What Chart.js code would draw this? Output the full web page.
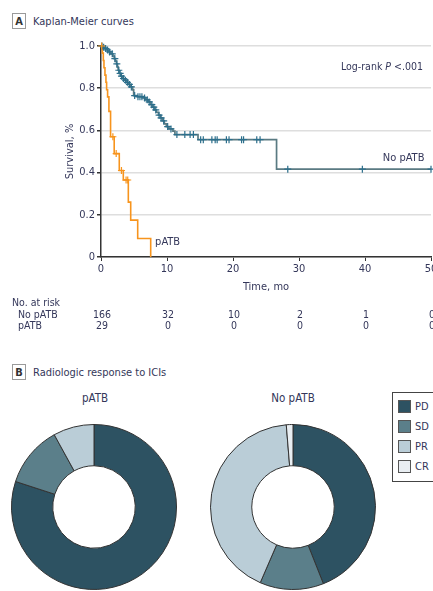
<!DOCTYPE html>
<html><head><meta charset="utf-8">
<script src="https://cdn.jsdelivr.net/npm/chart.js@4.4.1/dist/chart.umd.min.js"></script>
<style>
html,body{margin:0;padding:0;background:#fff;width:433px;height:591px;overflow:hidden;position:relative;
font-family:"Liberation Sans Narrow","DejaVu Sans Condensed","Arial Narrow",sans-serif;color:#34375a;}
canvas{position:absolute;display:block}
.hdr{position:absolute;left:12px;height:16px;display:flex;align-items:center;font-size:11px;white-space:nowrap}
.box{box-sizing:border-box;width:14px;height:16px;border:1px solid #9a9a9a;display:flex;align-items:center;justify-content:center;font-weight:bold;font-size:11px;margin-right:7px;color:#333;}
.ttl{position:absolute;font-size:11.5px;transform:translateX(-50%);white-space:nowrap}
#legend{position:absolute;left:392px;top:392px;width:60px;height:90px;border:1px solid #444;box-sizing:border-box}
.li{position:absolute;left:5px;height:13px;display:flex;align-items:center;font-size:11px}
.sw{box-sizing:border-box;width:13px;height:13px;border:1px solid #555;margin-right:4px}
</style></head>
<body>
<div class="hdr" style="top:13px"><div class="box">A</div>Kaplan-Meier curves</div>
<canvas id="km" width="445" height="340" style="left:0;top:0"></canvas>
<div class="hdr" style="top:364px"><div class="box">B</div>Radiologic response to ICIs</div>
<div class="ttl" style="left:95px;top:391px">pATB</div>
<div class="ttl" style="left:293px;top:391px">No pATB</div>
<canvas id="d1" width="166" height="166" style="left:11px;top:424px"></canvas>
<canvas id="d2" width="166" height="166" style="left:210px;top:424px"></canvas>
<div id="legend"></div>
<script>
// ---------- DATA ----------
const timeTicks = [0, 10, 20, 30, 40, 50];
const riskGroups = ['No pATB', 'pATB'];
const riskNoPATB = [166, 32, 10, 2, 1, 0];
const riskPATB = [29, 0, 0, 0, 0, 0];

// Kaplan-Meier step data (time in months, survival)
const noTimes = [0, 0.3, 0.6, 0.9, 1.2, 1.5, 1.8, 2.0, 2.2, 2.35, 2.5, 2.6, 2.75, 3.0, 3.3, 3.6, 3.9, 4.2, 4.5, 4.8, 4.95, 5.5, 6.4, 6.8, 7.2, 7.5, 7.8, 8.1, 8.4, 8.7, 9.0, 9.3, 9.6, 9.9, 10.3, 10.9, 11.2, 14.7, 26.6, 50];
const noSurv  = [1, 0.994, 0.988, 0.981, 0.972, 0.963, 0.952, 0.94, 0.928, 0.915, 0.9, 0.885, 0.87, 0.857, 0.846, 0.838, 0.828, 0.818, 0.806, 0.792, 0.765, 0.76, 0.754, 0.745, 0.735, 0.722, 0.71, 0.697, 0.686, 0.672, 0.659, 0.645, 0.631, 0.618, 0.607, 0.597, 0.58, 0.556, 0.416, 0.416];
const noCensorTimes = [0.15, 0.4, 0.7, 1.0, 1.3, 1.7, 2.1, 2.4, 2.7, 2.9, 3.1, 3.4, 3.7, 4.0, 4.3, 4.6, 5.1, 5.6, 5.9, 6.2, 6.6, 7.0, 7.3, 7.7, 8.0, 8.3, 8.8, 9.1, 9.5, 10.1, 10.6, 11.5, 12.7, 13.5, 14.0, 15.1, 15.5, 16.8, 17.3, 17.6, 19.0, 19.4, 21.3, 21.6, 23.6, 24.1, 28.3, 39.6, 50];

const pTimes = [0, 0.2, 0.35, 0.45, 0.6, 0.75, 0.85, 1.0, 1.2, 1.45, 2.0, 2.77, 3.38, 4.14, 4.5, 5.56, 7.53];
const pSurv  = [1, 0.966, 0.931, 0.897, 0.862, 0.828, 0.793, 0.759, 0.69, 0.57, 0.49, 0.41, 0.365, 0.26, 0.175, 0.088, 0];
const pCensorTimes = [0.1, 1.8, 2.3, 3.1, 3.8, 4.05];

// Radiologic response (%)
const respCats = ['PD', 'SD', 'PR', 'CR'];
const respPATB = [80, 12, 8, 0];
const respNoPATB = [44, 12.5, 42.2, 1.3];

// ---------- STYLE ----------
const FONT = '"Liberation Sans Narrow","DejaVu Sans Condensed","Arial Narrow",sans-serif';
const TXT = '#34375a';
const NO_LINE = '#5a7a82', NO_MARK = '#2c6f8c', P_COL = '#f7941d';
const respColors = ['#2d5262', '#5b7f8a', '#bacdd7', '#e9eef2'];
Chart.defaults.font.family = FONT;
Chart.defaults.color = TXT;

function stepAt(times, surv, t) {
  let s = surv[0];
  for (let i = 0; i < times.length; i++) { if (times[i] <= t) s = surv[i]; }
  return s;
}
const pts = (ts, ss) => ts.map((t, i) => ({x: t, y: ss[i]}));
const cens = (ct, ts, ss) => ct.map(t => ({x: t, y: stepAt(ts, ss, t)}));

const kmText = {
  id: 'kmText',
  afterDraw(chart) {
    const ctx = chart.ctx, xs = chart.scales.x, ys = chart.scales.y, ca = chart.chartArea;
    ctx.save();
    ctx.fillStyle = TXT;
    ctx.font = '11px ' + FONT;
    ctx.textBaseline = 'middle';
    // y title
    ctx.save();
    ctx.translate(70, (ca.top + ca.bottom) / 2);
    ctx.rotate(-Math.PI / 2);
    ctx.textAlign = 'center';
    ctx.fillText('Survival, %', 0, 0);
    ctx.restore();
    // x title
    ctx.textAlign = 'center';
    ctx.fillText('Time, mo', (ca.left + ca.right) / 2, 287);
    // log-rank
    const a = 'Log-rank ', b = 'P', c = ' <.001';
    ctx.font = '10.5px ' + FONT; const wa = ctx.measureText(a).width, wc = ctx.measureText(c).width;
    ctx.font = 'italic 10.5px ' + FONT; const wb = ctx.measureText(b).width;
    let x0 = ca.right - 8 - (wa + wb + wc);
    const yl = ys.getPixelForValue(0.9);
    ctx.textAlign = 'left';
    ctx.font = '10.5px ' + FONT; ctx.fillText(a, x0, yl);
    ctx.font = 'italic 10.5px ' + FONT; ctx.fillText(b, x0 + wa, yl);
    ctx.font = '10.5px ' + FONT; ctx.fillText(c, x0 + wa + wb, yl);
    // curve labels
    ctx.font = '11px ' + FONT;
    ctx.fillText('No pATB', xs.getPixelForValue(42.7), ys.getPixelForValue(0.47));
    ctx.fillText('pATB', xs.getPixelForValue(8.2), ys.getPixelForValue(0.07));
    // at-risk table
    ctx.font = '10.5px ' + FONT;
    ctx.fillText('No. at risk', 12, 303);
    const rows = [riskNoPATB, riskPATB];
    const ry = [315.5, 326.5];
    rows.forEach((r, i) => {
      ctx.textAlign = 'left';
      ctx.fillText(riskGroups[i], 18, ry[i]);
      ctx.textAlign = 'center';
      r.forEach((v, j) => ctx.fillText(String(v), xs.getPixelForValue(timeTicks[j]) + 1, ry[i]));
    });
    ctx.restore();
  }
};

new Chart(document.getElementById('km'), {
  type: 'scatter',
  data: {
    datasets: [
      {data: pts(noTimes, noSurv), showLine: true, stepped: true, borderColor: NO_LINE, borderWidth: 1.7, pointRadius: 0, order: 3},
      {data: pts(pTimes, pSurv), showLine: true, stepped: true, borderColor: P_COL, borderWidth: 1.6, pointRadius: 0, order: 2},
      {data: cens(noCensorTimes, noTimes, noSurv), showLine: false, pointStyle: 'cross', pointRadius: 3.5, borderColor: NO_MARK, borderWidth: 1.2, clip: false, order: 1},
      {data: cens(pCensorTimes, pTimes, pSurv), showLine: false, pointStyle: 'cross', pointRadius: 3.5, borderColor: P_COL, borderWidth: 1.2, clip: false, order: 0}
    ]
  },
  options: {
    responsive: false, animation: false,
    layout: {padding: {top: 46, right: 14, left: 0, bottom: 59}},
    plugins: {legend: {display: false}, tooltip: {enabled: false}},
    scales: {
      x: {
        type: 'linear', min: 0, max: 50,
        afterFit: s => { s.height = 24; },
        ticks: {stepSize: 10, padding: 2, maxRotation: 0, autoSkip: false, color: TXT, font: {size: 11}},
        grid: {drawOnChartArea: false, drawTicks: true, tickLength: 4, tickColor: '#333'},
        border: {color: '#333', width: 1.5}
      },
      y: {
        min: 0, max: 1,
        afterFit: s => { s.width = 101; },
        ticks: {stepSize: 0.2, padding: 2, color: TXT, font: {size: 11}, callback: v => v === 0 ? '0' : v.toFixed(1)},
        grid: {color: '#dedede', lineWidth: 1.5, tickLength: 4, tickColor: '#333'},
        border: {color: '#333', width: 1.5}
      }
    }
  },
  plugins: [kmText]
});

function donut(id, vals) {
  new Chart(document.getElementById(id), {
    type: 'doughnut',
    data: {labels: respCats, datasets: [{data: vals, backgroundColor: respColors, borderColor: '#333', borderWidth: 1}]},
    options: {responsive: false, animation: false, cutout: '50%', layout: {padding: 0},
      plugins: {legend: {display: false}, tooltip: {enabled: false}}}
  });
}
donut('d1', respPATB);
donut('d2', respNoPATB);

const lg = document.getElementById('legend');
respCats.forEach((c, i) => {
  const d = document.createElement('div');
  d.className = 'li';
  d.style.top = (7 + i * 20) + 'px';
  d.innerHTML = '<div class="sw" style="background:' + respColors[i] + '"></div>' + c;
  lg.appendChild(d);
});
</script>
</body></html>
